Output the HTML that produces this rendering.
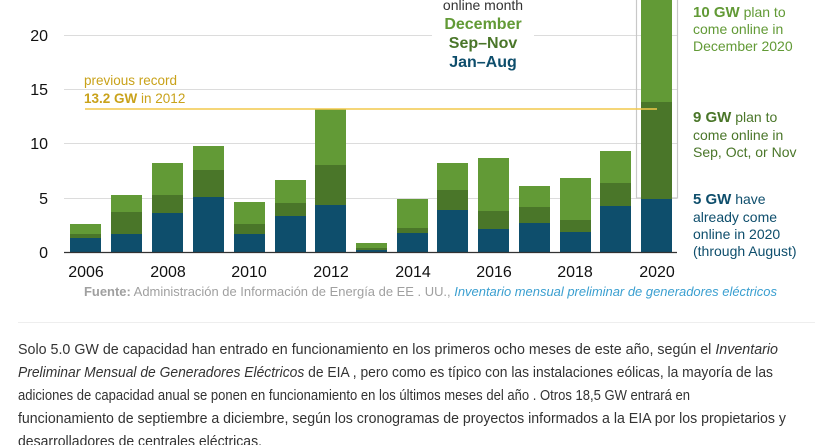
<!DOCTYPE html>
<html><head><meta charset="utf-8"><style>
html,body{margin:0;padding:0;background:#fff;width:830px;height:445px;overflow:hidden}
svg{display:block}
text{font-family:"Liberation Sans",sans-serif}
</style></head><body>
<svg width="830" height="445" viewBox="0 0 830 445">
<g stroke="#dcdcdc" stroke-width="1">
<line x1="64" y1="35.5" x2="677" y2="35.5"/>
<line x1="64" y1="89.5" x2="677" y2="89.5"/>
<line x1="64" y1="143.5" x2="677" y2="143.5"/>
<line x1="64" y1="198.5" x2="677" y2="198.5"/>
</g>
<rect x="432" y="0" width="102" height="70" fill="#fff"/>
<g font-size="16" fill="#111" text-anchor="end">
<text x="48" y="41">20</text><text x="48" y="95">15</text><text x="48" y="149">10</text><text x="48" y="204">5</text><text x="48" y="258">0</text>
</g>
<g>
<rect x="70" y="238" width="31" height="14" fill="#0e4e6c"/><rect x="70" y="234" width="31" height="4" fill="#4a7629"/><rect x="70" y="224" width="31" height="10" fill="#629a36"/>
<rect x="111" y="234" width="31" height="18" fill="#0e4e6c"/><rect x="111" y="212" width="31" height="22" fill="#4a7629"/><rect x="111" y="195" width="31" height="17" fill="#629a36"/>
<rect x="152" y="213" width="31" height="39" fill="#0e4e6c"/><rect x="152" y="195" width="31" height="18" fill="#4a7629"/><rect x="152" y="163" width="31" height="32" fill="#629a36"/>
<rect x="193" y="197" width="31" height="55" fill="#0e4e6c"/><rect x="193" y="170" width="31" height="27" fill="#4a7629"/><rect x="193" y="146" width="31" height="24" fill="#629a36"/>
<rect x="234" y="234" width="31" height="18" fill="#0e4e6c"/><rect x="234" y="224" width="31" height="10" fill="#4a7629"/><rect x="234" y="202" width="31" height="22" fill="#629a36"/>
<rect x="275" y="216" width="31" height="36" fill="#0e4e6c"/><rect x="275" y="203" width="31" height="13" fill="#4a7629"/><rect x="275" y="180" width="31" height="23" fill="#629a36"/>
<rect x="315" y="205" width="31" height="47" fill="#0e4e6c"/><rect x="315" y="165" width="31" height="40" fill="#4a7629"/><rect x="315" y="109" width="31" height="56" fill="#629a36"/>
<rect x="356" y="250" width="31" height="2" fill="#0e4e6c"/><rect x="356" y="248" width="31" height="2" fill="#4a7629"/><rect x="356" y="243" width="31" height="5" fill="#629a36"/>
<rect x="397" y="233" width="31" height="19" fill="#0e4e6c"/><rect x="397" y="228" width="31" height="5" fill="#4a7629"/><rect x="397" y="199" width="31" height="29" fill="#629a36"/>
<rect x="437" y="210" width="31" height="42" fill="#0e4e6c"/><rect x="437" y="190" width="31" height="20" fill="#4a7629"/><rect x="437" y="163" width="31" height="27" fill="#629a36"/>
<rect x="478" y="229" width="31" height="23" fill="#0e4e6c"/><rect x="478" y="211" width="31" height="18" fill="#4a7629"/><rect x="478" y="158" width="31" height="53" fill="#629a36"/>
<rect x="519" y="223" width="31" height="29" fill="#0e4e6c"/><rect x="519" y="207" width="31" height="16" fill="#4a7629"/><rect x="519" y="186" width="31" height="21" fill="#629a36"/>
<rect x="560" y="232" width="31" height="20" fill="#0e4e6c"/><rect x="560" y="220" width="31" height="12" fill="#4a7629"/><rect x="560" y="178" width="31" height="42" fill="#629a36"/>
<rect x="600" y="206" width="31" height="46" fill="#0e4e6c"/><rect x="600" y="183" width="31" height="23" fill="#4a7629"/><rect x="600" y="151" width="31" height="32" fill="#629a36"/>
<rect x="636.5" y="-2" width="41" height="200" fill="none" stroke="#c8c8c8" stroke-width="1.2"/>
<rect x="641" y="199" width="31" height="53" fill="#0e4e6c"/><rect x="641" y="102" width="31" height="97" fill="#4a7629"/><rect x="641" y="-5" width="31" height="107" fill="#629a36"/>
</g>
<line x1="85" y1="109" x2="657" y2="109" stroke="#f2c84b" stroke-width="1.5"/>
<line x1="64" y1="252.5" x2="677" y2="252.5" stroke="#333" stroke-width="1.3"/>
<text x="84" y="85" font-size="13.5" fill="#c9a21a">previous record</text>
<text x="84" y="103" font-size="13.5" fill="#c9a21a"><tspan font-weight="bold">13.2 GW</tspan> in 2012</text>
<g text-anchor="middle">
<text x="483" y="10" font-size="14" fill="#333">online month</text>
<text x="483" y="29" font-size="16" font-weight="bold" fill="#629a36">December</text>
<text x="483" y="48" font-size="16" font-weight="bold" fill="#4a7629">Sep–Nov</text>
<text x="483" y="67" font-size="16" font-weight="bold" fill="#0e4e6c">Jan–Aug</text>
</g>
<g font-size="14">
<text x="693" y="17" fill="#629a36"><tspan font-weight="bold" font-size="15">10 GW</tspan> plan to</text>
<text x="693" y="34" fill="#629a36">come online in</text>
<text x="693" y="51" fill="#629a36">December 2020</text>
<text x="693" y="122" fill="#4a7629"><tspan font-weight="bold" font-size="15">9 GW</tspan> plan to</text>
<text x="693" y="140" fill="#4a7629">come online in</text>
<text x="693" y="157" fill="#4a7629">Sep, Oct, or Nov</text>
<text x="693" y="204" fill="#0e4e6c"><tspan font-weight="bold" font-size="15">5 GW</tspan> have</text>
<text x="693" y="222" fill="#0e4e6c">already come</text>
<text x="693" y="239" fill="#0e4e6c">online in 2020</text>
<text x="693" y="256" fill="#0e4e6c">(through August)</text>
</g>
<g font-size="16" fill="#111" text-anchor="middle">
<text x="86" y="277">2006</text><text x="168" y="277">2008</text><text x="249" y="277">2010</text><text x="331" y="277">2012</text><text x="413" y="277">2014</text><text x="494" y="277">2016</text><text x="575" y="277">2018</text><text x="657" y="277">2020</text>
</g>
<text x="84" y="296" font-size="13" fill="#a0a0a0" textLength="693" lengthAdjust="spacingAndGlyphs"><tspan font-weight="bold">Fuente:</tspan> Administración de Información de Energía de EE . UU., <tspan fill="#3a9fd0" font-style="italic">Inventario mensual preliminar de generadores eléctricos</tspan></text>
<line x1="18" y1="322.5" x2="815" y2="322.5" stroke="#eeeeee" stroke-width="1"/>
<g font-size="15" fill="#333">
<text x="18" y="354" textLength="760" lengthAdjust="spacingAndGlyphs">Solo 5.0 GW de capacidad han entrado en funcionamiento en los primeros ocho meses de este año, según el <tspan font-style="italic">Inventario</tspan></text>
<text x="18" y="377" textLength="755" lengthAdjust="spacingAndGlyphs"><tspan font-style="italic">Preliminar Mensual de Generadores Eléctricos</tspan> de EIA , pero como es típico con las instalaciones eólicas, la mayoría de las</text>
<text x="18" y="400" textLength="672" lengthAdjust="spacingAndGlyphs">adiciones de capacidad anual se ponen en funcionamiento en los últimos meses del año . Otros 18,5 GW entrará en</text>
<text x="18" y="423" textLength="768" lengthAdjust="spacingAndGlyphs">funcionamiento de septiembre a diciembre, según los cronogramas de proyectos informados a la EIA por los propietarios y</text>
<text x="18" y="446" textLength="244" lengthAdjust="spacingAndGlyphs">desarrolladores de centrales eléctricas.</text>
</g>
</svg>
</body></html>
